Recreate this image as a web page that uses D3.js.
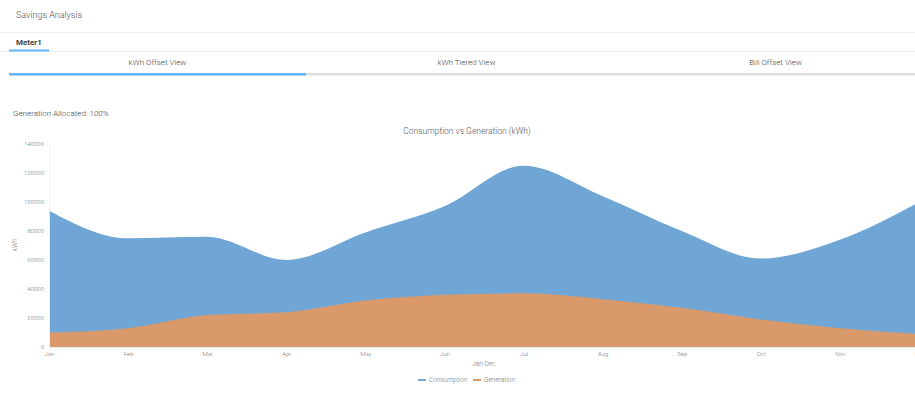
<!DOCTYPE html>
<html>
<head>
<meta charset="utf-8">
<script src="https://cdn.jsdelivr.net/npm/d3@7"></script>
<style>
  html, body { margin: 0; padding: 0; background: #fff; overflow: hidden; }
  body { width: 915px; height: 399px; font-family: Roboto, "Open Sans", sans-serif; }
  svg text { font-family: Roboto, "Open Sans", sans-serif; font-weight: 300; }
</style>
</head>
<body>
<svg id="page" width="915" height="399"></svg>
<script>
// Monthly data (kWh)
const months = ["Jan", "Feb", "Mar", "Apr", "May", "Jun", "Jul", "Aug", "Sep", "Oct", "Nov", "Dec"];
const consumption = [94000, 75000, 76000, 60000, 79000, 97000, 125000, 104000, 80000, 61000, 74000, 100000];
const generation = [10000, 13000, 22000, 24000, 32000, 36000, 37000, 33000, 27000, 19000, 13000, 9000];
const yTicks = [0, 20000, 40000, 60000, 80000, 100000, 120000, 140000];
const tabs = ["kWh Offset View", "kWh Tiered View", "Bill Offset View"];
const seriesNames = ["Consumption", "Generation"];
const seriesColors = ["#6fa6d6", "#d9996a"];

const svg = d3.select("#page");

// ---- page header ----
svg.append("text").attr("x", 16).attr("y", 18).attr("font-size", 9).attr("fill", "#555")
  .text("Savings Analysis");
svg.append("text").attr("x", 912).attr("y", 18).attr("font-size", 9).attr("fill", "#999").text("⋮");
svg.append("line").attr("x1", 0).attr("x2", 915).attr("y1", 32.5).attr("y2", 32.5).attr("stroke", "#eee");

svg.append("text").attr("x", 16).attr("y", 45).attr("font-size", 8).style("font-weight", "bold").attr("fill", "#444")
  .text("Meter1");
svg.append("line").attr("x1", 0).attr("x2", 915).attr("y1", 51.5).attr("y2", 51.5).attr("stroke", "#eee");
svg.append("rect").attr("x", 9).attr("y", 49.5).attr("width", 40).attr("height", 2).attr("fill", "#64b5f6");

// ---- view tabs ----
const tabX = d3.scaleBand().domain(tabs).range([3, 930]);
svg.selectAll("text.tab").data(tabs).join("text").attr("class", "tab")
  .attr("x", d => tabX(d) + tabX.bandwidth() / 2).attr("y", 65)
  .attr("text-anchor", "middle").attr("font-size", 8).attr("fill", "#444").text(d => d);
svg.append("rect").attr("x", 9).attr("y", 73).attr("width", 906).attr("height", 2.5).attr("fill", "#ddd");
svg.append("rect").attr("x", 9).attr("y", 73).attr("width", 297).attr("height", 2.5).attr("fill", "#64b5f6");

svg.append("text").attr("x", 13).attr("y", 116).attr("font-size", 8).attr("fill", "#444")
  .text("Generation Allocated: 100%");

// ---- chart ----
const x = d3.scalePoint().domain(months).range([49, 919]);
const y = d3.scaleLinear().domain([0, 140000]).range([347, 144]);

svg.append("text").attr("x", 467).attr("y", 134).attr("text-anchor", "middle")
  .attr("font-size", 8.5).attr("fill", "#555").text("Consumption vs Generation (kWh)");

const plot = svg.append("g");
const area = d3.area().curve(d3.curveMonotoneX)
  .x((d, i) => x(months[i])).y0(y(0)).y1(d => y(d));

[consumption, generation].forEach((vals, k) => {
  plot.append("path").datum(vals).attr("d", area).attr("fill", seriesColors[k]);
});

// axes
const yAxis = svg.append("g").attr("transform", "translate(49,0)")
  .call(d3.axisLeft(y).tickValues(yTicks).tickSize(0).tickPadding(5).tickFormat(d3.format("d")));
yAxis.select(".domain").attr("stroke", "#eee");
yAxis.selectAll("text").attr("font-size", 6).attr("fill", "#777");

const xAxis = svg.append("g").attr("transform", "translate(0,347)")
  .call(d3.axisBottom(x).tickSize(0).tickPadding(5));
xAxis.select(".domain").attr("stroke", "#eee");
xAxis.selectAll("text").attr("font-size", 6).attr("fill", "#777");

svg.append("text").attr("transform", "translate(17,245) rotate(-90)").attr("text-anchor", "middle")
  .attr("font-size", 6.5).attr("fill", "#777").text("kWh");
svg.append("text").attr("x", 484).attr("y", 366).attr("text-anchor", "middle")
  .attr("font-size", 6.5).attr("fill", "#777").text("Jan-Dec");

// legend
const legend = svg.append("g").attr("transform", "translate(418,380)");
const legendOffsets = [0, 55];
seriesNames.forEach((name, k) => {
  const g = legend.append("g").attr("transform", `translate(${legendOffsets[k]},0)`);
  g.append("line").attr("x1", 0).attr("x2", 8).attr("y1", 0).attr("y2", 0)
    .attr("stroke", seriesColors[k]).attr("stroke-width", 2);
  g.append("text").attr("x", 11).attr("y", 2.3).attr("font-size", 6.5).attr("fill", "#777").text(name);
});
</script>
</body>
</html>
